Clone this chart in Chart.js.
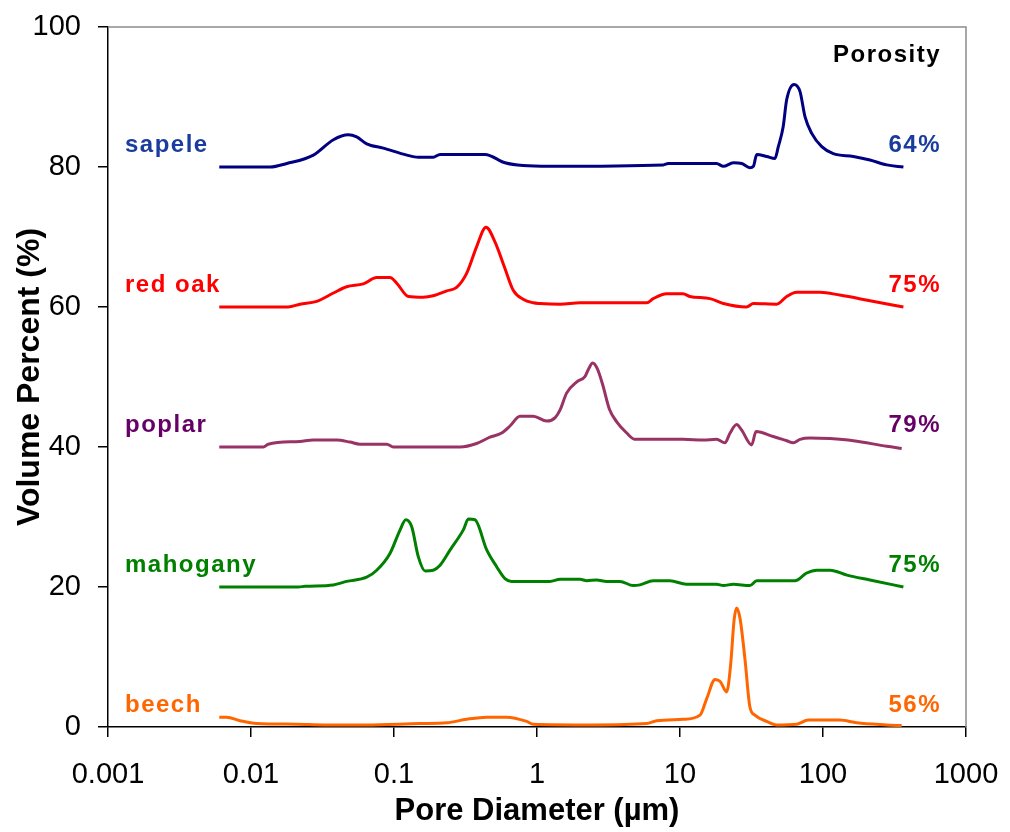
<!DOCTYPE html>
<html>
<head>
<meta charset="utf-8">
<title>Pore size distribution</title>
<script src="https://cdn.jsdelivr.net/npm/chart.js@4.4.1/dist/chart.umd.min.js"></script>
<style>
  html, body { margin: 0; padding: 0; background: #fff; }
  canvas { display: block; }
</style>
</head>
<body>
<canvas id="psd" width="1010" height="832"></canvas>
<script>
// pore diameters (um) and offset volume percent per wood species
const sapeleD = [0.006, 0.0136, 0.0178, 0.0273, 0.0377, 0.0479, 0.0548, 0.0644, 0.0841, 0.123, 0.148, 0.188, 0.21, 0.433, 0.597, 0.8, 1.23, 7.64, 8.28, 18.0, 20.1, 23.6, 27.0, 30.8, 32.6, 34.4, 40.4, 46.1, 48.7, 52.7, 55.7, 62.7, 69.0, 74.8, 83.4, 98, 118, 163, 213, 279, 365];
const sapeleV = [80, 80, 80.5, 81.7, 83.9, 84.6, 84.3, 83.3, 82.7, 81.7, 81.4, 81.4, 81.8, 81.8, 80.6, 80.2, 80.1, 80.3, 80.5, 80.5, 80.1, 80.6, 80.5, 79.9, 80.1, 81.8, 81.5, 81.2, 82.9, 85.8, 89.6, 91.8, 90.8, 87.2, 84.8, 82.9, 81.9, 81.5, 81, 80.3, 80];

const redOakD = [0.006, 0.0182, 0.022, 0.0288, 0.0377, 0.0467, 0.061, 0.0757, 0.0937, 0.1045, 0.126, 0.16, 0.188, 0.234, 0.274, 0.322, 0.378, 0.44, 0.508, 0.597, 0.682, 0.8, 0.942, 1.05, 1.45, 2.0, 5.85, 6.5, 8.07, 10.5, 11.7, 16.2, 20.1, 29.2, 32.6, 47.4, 55.7, 65.5, 95.3, 131, 213, 365];
const redOakV = [60, 60, 60.4, 60.8, 62, 62.9, 63.3, 64.2, 64.2, 63.4, 61.5, 61.4, 61.6, 62.3, 62.8, 64.8, 68.6, 71.4, 69.3, 65.5, 62.4, 61.1, 60.6, 60.5, 60.4, 60.6, 60.6, 61.2, 61.9, 61.9, 61.5, 61.2, 60.5, 60, 60.5, 60.4, 61.5, 62.1, 62.1, 61.7, 60.9, 60];

const poplarD = [0.006, 0.0122, 0.0132, 0.022, 0.0273, 0.0397, 0.0492, 0.0578, 0.0889, 0.0989, 0.29, 0.378, 0.469, 0.566, 0.647, 0.76, 0.942, 1.17, 1.34, 1.45, 1.61, 1.9, 2.17, 2.29, 2.45, 2.64, 2.88, 3.21, 3.61, 4.24, 4.84, 7.25, 10.5, 14.6, 18.0, 20.6, 22.4, 24.9, 27.0, 31.7, 34.0, 44.9, 55.7, 62.0, 69.0, 81.1, 112, 163, 279, 355];
const poplarV = [40, 40, 40.4, 40.8, 41, 41, 40.7, 40.4, 40.4, 40, 40, 40.5, 41.4, 42, 43, 44.4, 44.4, 43.7, 44.2, 45.3, 47.7, 49.3, 50.1, 51.1, 52, 51.2, 48.9, 45.4, 43.6, 42, 41.1, 41.1, 41.1, 41, 41.1, 40.6, 42, 43.2, 42.4, 40.3, 42.2, 41.5, 40.9, 40.6, 41.1, 41.3, 41.2, 40.9, 40.1, 39.8];

const mahoganyD = [0.006, 0.0214, 0.0239, 0.0377, 0.0467, 0.0644, 0.0757, 0.0937, 0.11, 0.121, 0.133, 0.148, 0.165, 0.188, 0.21, 0.247, 0.306, 0.331, 0.368, 0.445, 0.522, 0.597, 0.665, 1.23, 1.45, 2.0, 2.23, 2.61, 3.07, 3.8, 4.71, 5.25, 6.5, 8.51, 11.1, 18.0, 20.1, 23.6, 30.8, 34.4, 63.7, 76.9, 90.4, 112, 147, 213, 365];
const mahoganyV = [20, 20, 20.1, 20.3, 20.8, 21.4, 22.4, 24.8, 28.1, 29.6, 28.6, 24.3, 22.3, 22.4, 23.1, 25.3, 28.2, 29.7, 29.6, 25.3, 22.9, 21.2, 20.8, 20.8, 21.1, 21.1, 20.9, 21, 20.8, 20.8, 20.2, 20.3, 20.9, 20.9, 20.4, 20.4, 20.2, 20.4, 20.2, 20.9, 20.9, 22, 22.4, 22.4, 21.7, 21, 20];

const beechD = [0.006, 0.00676, 0.00838, 0.011, 0.0209, 0.0321, 0.0644, 0.152, 0.234, 0.322, 0.445, 0.614, 0.847, 0.942, 2.48, 5.85, 6.87, 10.5, 13.8, 15.4, 17.6, 19.1, 21.2, 22.6, 23.9, 24.9, 26.3, 28.5, 30.8, 33.4, 40.4, 47.4, 65.5, 78.9, 131, 172, 279, 355];
const beechV = [1.4, 1.4, 0.9, 0.5, 0.4, 0.3, 0.3, 0.5, 0.6, 1.1, 1.4, 1.4, 0.8, 0.4, 0.3, 0.5, 0.9, 1.1, 1.7, 4.1, 6.8, 6.5, 5, 8.9, 15.3, 17, 15.5, 9.6, 2.9, 1.7, 0.8, 0.3, 0.4, 1, 1, 0.6, 0.3, 0.2];

const species = ['sapele', 'red oak', 'poplar', 'mahogany', 'beech'];
const porosity = ['64%', '75%', '79%', '75%', '56%'];
const offsets = [80, 60, 40, 20, 0];
const lineColors = ['#000080', '#FF0000', '#993366', '#008000', '#FF6600'];
const labelColors = ['#1A3C9E', '#FF0000', '#660066', '#008000', '#FF6600'];

const xTicks = [0.001, 0.01, 0.1, 1, 10, 100, 1000];
const xTickLabels = ['0.001', '0.01', '0.1', '1', '10', '100', '1000'];

const seriesD = [sapeleD, redOakD, poplarD, mahoganyD, beechD];
const seriesV = [sapeleV, redOakV, poplarV, mahoganyV, beechV];

function pairs(d, v) {
  return d.map(function (x, i) {
    return { x: x, y: v[i] };
  });
}

// species names on the left, porosity on the right, just above each baseline
const curveLabels = {
  id: 'curveLabels',
  afterDatasetsDraw: function (chart) {
    const ctx = chart.ctx;
    const area = chart.chartArea;
    const y = chart.scales.y;
    ctx.save();
    ctx.font = 'bold 24px "Liberation Sans", Arial, sans-serif';
    ctx.letterSpacing = '1.5px';
    ctx.textBaseline = 'middle';
    species.forEach(function (name, i) {
      const py = y.getPixelForValue(offsets[i] + 3.1);
      ctx.fillStyle = labelColors[i];
      ctx.textAlign = 'left';
      ctx.fillText(name, area.left + 17, py);
      ctx.textAlign = 'right';
      ctx.fillText(porosity[i], area.right - 25, py);
    });
    ctx.fillStyle = '#000';
    ctx.textAlign = 'right';
    ctx.fillText('Porosity', area.right - 25, y.getPixelForValue(95.9));
    ctx.restore();
  },
};

// thin grey frame on top and right of the plot area
const plotFrame = {
  id: 'plotFrame',
  beforeDatasetsDraw: function (chart) {
    const ctx = chart.ctx;
    const a = chart.chartArea;
    ctx.save();
    ctx.strokeStyle = '#8c8c8c';
    ctx.lineWidth = 1.5;
    ctx.beginPath();
    ctx.moveTo(a.left, a.top);
    ctx.lineTo(a.right, a.top);
    ctx.lineTo(a.right, a.bottom);
    ctx.stroke();
    ctx.restore();
  },
};

Chart.defaults.font.family = '"Liberation Sans", Arial, sans-serif';
Chart.defaults.color = '#000';

new Chart(document.getElementById('psd'), {
  type: 'line',
  data: {
    datasets: species.map(function (name, i) {
      return {
        label: name,
        data: pairs(seriesD[i], seriesV[i]),
        borderColor: lineColors[i],
        backgroundColor: lineColors[i],
        borderWidth: 3,
        pointRadius: 0,
        cubicInterpolationMode: 'monotone',
        fill: false,
      };
    }),
  },
  options: {
    responsive: false,
    animation: false,
    layout: { padding: { top: 27, right: 44, left: 0, bottom: 0 } },
    plugins: {
      legend: { display: false },
      tooltip: { enabled: false },
    },
    scales: {
      x: {
        type: 'logarithmic',
        min: 0.001,
        max: 1000,
        afterBuildTicks: function (scale) {
          scale.ticks = xTicks.map(function (v) {
            return { value: v };
          });
        },
        afterFit: function (scale) {
          scale.height = 105;
          scale.paddingLeft = 0;
          scale.paddingRight = 0;
        },
        ticks: {
          autoSkip: false,
          maxRotation: 0,
          padding: 21,
          font: { size: 29 },
          callback: function (v, i) {
            return xTickLabels[i];
          },
        },
        grid: { drawOnChartArea: false, tickLength: 10, color: '#000', lineWidth: 1.5 },
        border: { color: '#000', width: 1.5 },
        title: {
          display: true,
          text: 'Pore Diameter (µm)',
          font: { size: 31, weight: 'bold' },
          padding: { top: 0, bottom: 2 },
        },
      },
      y: {
        min: 0,
        max: 100,
        afterFit: function (scale) {
          scale.width = 108;
          scale.paddingTop = 0;
          scale.paddingBottom = 0;
        },
        ticks: {
          stepSize: 20,
          padding: 17,
          font: { size: 29 },
        },
        grid: { drawOnChartArea: false, tickLength: 10, color: '#000', lineWidth: 1.5 },
        border: { color: '#000', width: 1.5 },
        title: {
          display: true,
          text: 'Volume Percent (%)',
          font: { size: 32, weight: 'bold' },
          padding: { top: 11, bottom: 0 },
        },
      },
    },
  },
  plugins: [plotFrame, curveLabels],
});
</script>
</body>
</html>
